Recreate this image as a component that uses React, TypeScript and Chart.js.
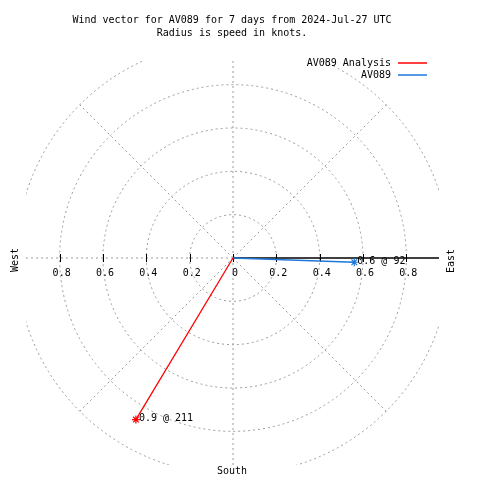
import React, { useEffect, useRef } from "react";
import { Chart, registerables } from "chart.js";

Chart.register(...registerables);

// ---- data ----
const titleLines = [
  "Wind vector for AV089 for 7 days from 2024-Jul-27 UTC",
  "Radius is speed in knots.",
];
const seriesNames = ["AV089 Analysis", "AV089"];
const seriesColors = ["#ff0000", "#1e78dc"];
const speeds = [0.87, 0.56]; // knots
const directions = [211, 92]; // degrees, compass bearing
const radialTicks = [0.2, 0.4, 0.6, 0.8];
const circleRadii = [0.2, 0.4, 0.6, 0.8, 1.0];
const spokeAngles = [0, 45, 135, 180, 225, 270, 315];
const compassLabels = ["West", "East", "South"];

// ---- layout ----
const FONT = '10px "DejaVu Sans Mono", "Liberation Mono", monospace';
const PX_PER_UNIT = 216.7;
const AREA = { left: 26, top: 61, right: 439, bottom: 465 };
const CENTER = { x: 233, y: 258 };
const X_MIN = -(CENTER.x - AREA.left) / PX_PER_UNIT;
const X_MAX = (AREA.right - CENTER.x) / PX_PER_UNIT;
const Y_MIN = -(AREA.bottom - CENTER.y) / PX_PER_UNIT;
const Y_MAX = (CENTER.y - AREA.top) / PX_PER_UNIT;

const toXY = (r: number, deg: number) => {
  const a = (deg * Math.PI) / 180;
  return { x: r * Math.sin(a), y: r * Math.cos(a) };
};

const polarPlugin = {
  id: "polarDecor",
  beforeDatasetsDraw(chart: any) {
    const { ctx, chartArea } = chart;
    const xs = chart.scales.x;
    const ys = chart.scales.y;
    const cx = xs.getPixelForValue(0);
    const cy = ys.getPixelForValue(0);
    const unit = xs.getPixelForValue(1) - cx;

    ctx.save();
    ctx.beginPath();
    ctx.rect(chartArea.left, chartArea.top, chartArea.right - chartArea.left, chartArea.bottom - chartArea.top);
    ctx.clip();
    ctx.strokeStyle = "#9a9a9a";
    ctx.lineWidth = 1;
    ctx.setLineDash([2, 3]);
    circleRadii.forEach((r) => {
      ctx.beginPath();
      ctx.arc(cx, cy, r * unit, 0, Math.PI * 2);
      ctx.stroke();
    });
    spokeAngles.forEach((deg) => {
      const p = toXY(1.0, deg);
      ctx.beginPath();
      ctx.moveTo(cx, cy);
      ctx.lineTo(xs.getPixelForValue(p.x), ys.getPixelForValue(p.y));
      ctx.stroke();
    });
    ctx.restore();

    // radial axis (east)
    ctx.save();
    ctx.setLineDash([]);
    ctx.strokeStyle = "#000000";
    ctx.lineWidth = 1.5;
    ctx.beginPath();
    ctx.moveTo(cx, cy);
    ctx.lineTo(chartArea.right, cy);
    ctx.stroke();
    ctx.lineWidth = 1;
    const tickXs: number[] = [cx];
    radialTicks.forEach((v) => {
      tickXs.push(xs.getPixelForValue(v));
      tickXs.push(xs.getPixelForValue(-v));
    });
    tickXs.forEach((tx) => {
      ctx.beginPath();
      ctx.moveTo(Math.round(tx) + 0.5, cy - 4);
      ctx.lineTo(Math.round(tx) + 0.5, cy + 4);
      ctx.stroke();
    });
    ctx.fillStyle = "#000000";
    ctx.font = FONT;
    ctx.textAlign = "center";
    ctx.textBaseline = "middle";
    const fmt = (v: number) => (v === 0 ? "0" : v.toFixed(1));
    [0, ...radialTicks].forEach((v) => {
      ctx.fillText(fmt(v), xs.getPixelForValue(v) + 2, cy + 15);
    });
    radialTicks.forEach((v) => {
      ctx.fillText(fmt(v), xs.getPixelForValue(-v) + 2, cy + 15);
    });
    ctx.restore();
  },
  afterDraw(chart: any) {
    const { ctx } = chart;
    const xs = chart.scales.x;
    const ys = chart.scales.y;
    ctx.save();
    ctx.setLineDash([]);

    // legend sample lines
    seriesNames.forEach((_name, i) => {
      const y = 63 + i * 12;
      ctx.strokeStyle = seriesColors[i];
      ctx.lineWidth = 1.5;
      ctx.beginPath();
      ctx.moveTo(398, y);
      ctx.lineTo(427, y);
      ctx.stroke();
    });

    ctx.fillStyle = "#000000";
    ctx.font = FONT;
    ctx.textBaseline = "middle";

    // title
    ctx.textAlign = "center";
    titleLines.forEach((t, i) => ctx.fillText(t, 232, 20.5 + i * 13));

    // legend text
    ctx.textAlign = "right";
    seriesNames.forEach((name, i) => {
      ctx.fillText(name, 391, 63.5 + i * 12);
    });

    // value labels
    ctx.textAlign = "left";
    speeds.forEach((s, i) => {
      const p = toXY(s, directions[i]);
      const px = xs.getPixelForValue(p.x);
      const py = ys.getPixelForValue(p.y);
      ctx.fillText(`${s.toFixed(1)} @ ${directions[i]}`, px + 3, py - 1);
    });

    // compass labels
    ctx.textAlign = "center";
    ctx.save();
    ctx.translate(15, 260);
    ctx.rotate(-Math.PI / 2);
    ctx.fillText(compassLabels[0], 0, 0);
    ctx.restore();
    ctx.save();
    ctx.translate(451, 261);
    ctx.rotate(-Math.PI / 2);
    ctx.fillText(compassLabels[1], 0, 0);
    ctx.restore();
    ctx.fillText(compassLabels[2], 232, 471);
    ctx.restore();
  },
};

export default function App() {
  const canvasRef = useRef<HTMLCanvasElement | null>(null);

  useEffect(() => {
    if (!canvasRef.current) return;
    const datasets = speeds.map((s, i) => {
      const p = toXY(s, directions[i]);
      return {
        label: seriesNames[i],
        data: [{ x: 0, y: 0 }, p],
        showLine: true,
        borderColor: seriesColors[i],
        backgroundColor: seriesColors[i],
        borderWidth: 1.3,
        pointRadius: [0, 4],
        pointStyle: "star",
        pointBorderColor: seriesColors[i],
        pointBorderWidth: 1.2,
      };
    });
    const chart = new Chart(canvasRef.current, {
      type: "scatter",
      data: { datasets } as any,
      options: {
        animation: false,
        responsive: false,
        devicePixelRatio: 1,
        layout: {
          padding: {
            left: AREA.left,
            top: AREA.top,
            right: 480 - AREA.right,
            bottom: 480 - AREA.bottom,
          },
        },
        scales: {
          x: { type: "linear", min: X_MIN, max: X_MAX, display: false },
          y: { type: "linear", min: Y_MIN, max: Y_MAX, display: false },
        },
        plugins: {
          legend: { display: false },
          title: { display: false },
          tooltip: { enabled: false },
        },
      },
      plugins: [polarPlugin],
    });
    return () => chart.destroy();
  }, []);

  return (
    <div style={{ position: "absolute", left: 0, top: 0, width: 480, height: 480, background: "#ffffff" }}>
      <canvas ref={canvasRef} width={480} height={480} />
    </div>
  );
}
